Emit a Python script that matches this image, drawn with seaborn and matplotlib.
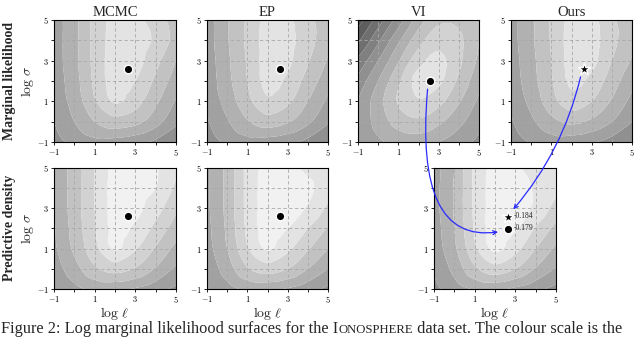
import numpy as np
import matplotlib
matplotlib.use('Agg')
import matplotlib.pyplot as plt
import matplotlib.tri as mtri
import seaborn as sns
from matplotlib.patches import ConnectionPatch

sns.set_style('white')
plt.rcParams['font.family'] = ['Liberation Serif', 'DejaVu Serif']
plt.rcParams['mathtext.fontset'] = 'cm'

# ---------------- data ----------------
col_titles = ["MCMC", "EP", "VI", "Ours"]
row_labels = ["Marginal likelihood", "Predictive density"]
tick_vals = [-1, 1, 3, 5]
tick_labels = ["$-1$", "$1$", "$3$", "$5$"]
minor_vals = [0, 2, 4]
grid_axis = [-1, 0, 1, 2, 3, 4, 5]   # surface sample positions (log l and log sigma)

# surface levels (band index), rows from log sigma = 5 (top) down to -1
ml_mcmc = [[4.5, 5.7, 7.3, 8.3, 8.3, 7.5, 6.5],
           [4.5, 5.7, 7.3, 8.4, 8.5, 7.8, 6.6],
           [4.5, 5.7, 7.3, 8.5, 8.4, 7.3, 6.0],
           [4.4, 5.6, 7.2, 8.4, 8.0, 6.8, 5.5],
           [4.3, 5.4, 6.9, 8.1, 7.4, 6.2, 4.9],
           [4.0, 5.0, 6.0, 6.6, 6.3, 5.4, 4.2],
           [3.6, 4.3, 4.7, 4.6, 4.3, 3.8, 3.2]]
ml_ep = [[4.5, 5.9, 7.2, 8.3, 8.2, 7.3, 6.4],
         [4.5, 5.9, 7.2, 8.4, 8.3, 7.4, 6.3],
         [4.4, 5.8, 7.1, 8.4, 8.2, 7.1, 5.9],
         [4.3, 5.7, 7.0, 8.3, 7.8, 6.6, 5.4],
         [4.2, 5.4, 6.7, 7.8, 7.2, 6.0, 4.8],
         [3.9, 4.9, 5.9, 6.5, 6.1, 5.2, 4.1],
         [3.5, 4.2, 4.6, 4.5, 4.2, 3.7, 3.1]]
ml_vi = [[-0.5, 1.5, 3.5, 5.5, 6.8, 6.8, 6.0],
         [0.8, 2.8, 4.8, 6.6, 7.6, 7.2, 6.0],
         [2.2, 4.0, 5.9, 7.6, 8.3, 7.2, 5.8],
         [3.3, 5.0, 6.8, 8.4, 8.2, 6.8, 5.3],
         [4.0, 5.6, 7.1, 7.9, 7.3, 6.1, 4.8],
         [4.2, 5.4, 6.4, 6.8, 6.2, 5.3, 4.3],
         [4.0, 4.8, 5.3, 5.4, 5.0, 4.4, 3.8]]
ml_ours = [[4.6, 5.8, 7.1, 8.3, 8.3, 7.2, 6.4],
           [4.6, 5.8, 7.1, 8.4, 8.4, 7.3, 6.3],
           [4.5, 5.7, 7.0, 8.4, 8.3, 7.0, 5.9],
           [4.4, 5.6, 6.9, 8.2, 7.7, 6.5, 5.3],
           [4.2, 5.3, 6.6, 7.6, 7.0, 5.9, 4.7],
           [3.9, 4.8, 5.7, 6.2, 5.8, 5.0, 4.0],
           [3.5, 4.1, 4.5, 4.4, 4.1, 3.6, 3.0]]
pd_mcmc = [[5.0, 6.5, 8.0, 9.3, 9.4, 9.1, 8.2],
           [5.0, 6.5, 8.0, 9.4, 9.4, 9.0, 7.8],
           [5.0, 6.5, 8.0, 9.4, 9.3, 8.4, 7.2],
           [4.9, 6.4, 7.9, 9.3, 8.8, 7.7, 6.5],
           [4.8, 6.2, 7.7, 9.1, 8.1, 6.9, 5.7],
           [4.5, 5.6, 6.8, 7.4, 6.9, 5.9, 4.8],
           [4.0, 4.7, 5.2, 5.2, 4.9, 4.4, 3.8]]
pd_ep = [[4.8, 6.3, 8.3, 9.3, 9.2, 8.8, 8.3],
         [4.8, 6.3, 8.3, 9.4, 9.4, 9.2, 8.4],
         [4.8, 6.3, 8.3, 9.4, 9.4, 8.9, 7.8],
         [4.7, 6.2, 8.2, 9.4, 9.0, 8.0, 6.9],
         [4.6, 6.0, 7.9, 9.1, 8.2, 7.1, 6.0],
         [4.3, 5.5, 6.9, 7.5, 7.0, 6.0, 5.0],
         [3.9, 4.6, 5.2, 5.2, 4.9, 4.4, 3.8]]
pd_ours = [[4.6, 6.0, 8.2, 9.3, 9.1, 8.7, 8.2],
           [4.6, 6.1, 8.2, 9.4, 9.3, 8.9, 8.2],
           [4.6, 6.1, 8.2, 9.4, 9.4, 8.8, 7.6],
           [4.5, 6.0, 8.1, 9.4, 9.1, 7.9, 6.7],
           [4.4, 5.8, 7.8, 9.2, 8.3, 7.0, 5.8],
           [4.1, 5.3, 6.8, 7.6, 7.0, 5.9, 4.9],
           [3.7, 4.5, 5.1, 5.2, 4.8, 4.3, 3.7]]

# optimum markers (log l, log sigma)
opt_mcmc = (2.62, 2.6)
opt_ep = (2.6, 2.6)
opt_vi = (2.58, 2.0)
opt_ours = (2.6, 2.6)
pd_mcmc_opt = (2.62, 2.6)
pd_ep_opt = (2.6, 2.6)
pd_star = (2.62, 2.58)
pd_circle = (2.62, 1.98)
pd_star_val = "-0.184"
pd_circle_val = "-0.179"

# ---------------- styling ----------------
band_lo, band_hi = -3, 10
levels = list(range(band_lo, band_hi + 1))
grays = []
for k in range(band_lo, band_hi):
    g = 0.945 if k >= 9 else 0.89 - (8 - k) * 0.065
    grays.append(str(min(max(g, 0.12), 0.97)))

W, H = 640, 337
fig = plt.figure(figsize=(W / 100, H / 100), dpi=100)

gx, gy = np.meshgrid(grid_axis, grid_axis[::-1])
base_tri = mtri.Triangulation(gx.ravel(), gy.ravel())
refiner = mtri.UniformTriRefiner(base_tri)


def px_axes(x0, y0, x1, y1):
    return fig.add_axes([x0 / W, 1 - y1 / H, (x1 - x0) / W, (y1 - y0) / H])


def draw_panel(ax, surf):
    z = np.array(surf, dtype=float).ravel()
    interp = mtri.CubicTriInterpolator(base_tri, z, kind='geom')
    tri_f, z_f = refiner.refine_field(z, triinterpolator=interp, subdiv=4)
    z_f = np.clip(z_f, band_lo + 0.01, band_hi - 0.01)
    ax.tricontourf(tri_f, z_f, levels=levels, colors=grays, zorder=0,
                   antialiased=True)
    ax.set_xlim(-1, 5)
    ax.set_ylim(-1, 5)
    for v in range(0, 5):
        ax.axvline(v, color='#a8a8a8', lw=0.6, ls=(0, (4, 3)), zorder=1)
        ax.axhline(v, color='#a8a8a8', lw=0.6, ls=(0, (4, 3)), zorder=1)
    ax.set_xticks(tick_vals)
    ax.set_xticklabels(tick_labels)
    ax.set_yticks(tick_vals)
    ax.set_yticklabels(tick_labels)
    ax.set_xticks(minor_vals, minor=True)
    ax.set_yticks(minor_vals, minor=True)
    ax.tick_params(which='both', direction='out', length=2.5, width=0.6,
                   labelsize=6, pad=1, bottom=True, left=True, top=False, right=False,
                   colors='black')
    ax.tick_params(which='minor', length=2)
    for s in ax.spines.values():
        s.set_color('black')
        s.set_linewidth(0.8)
    ax.grid(False)


def mark(ax, pt, marker, size):
    sns.scatterplot(x=[pt[0]], y=[pt[1]], ax=ax, marker=marker, s=size,
                    color='black', edgecolor='white', linewidth=1.0, zorder=5,
                    legend=False)


top_x = [(54, 176), (207, 328), (358, 479), (511, 632)]
top_y = (20, 142)
bot_y = (168, 289)
bot_x = [(54, 176), (207, 328), (434, 556)]

top_surfs = [ml_mcmc, ml_ep, ml_vi, ml_ours]
top_opts = [opt_mcmc, opt_ep, opt_vi, opt_ours]
top_axes = []
for i, (xs, surf, opt) in enumerate(zip(top_x, top_surfs, top_opts)):
    ax = px_axes(xs[0], top_y[0], xs[1], top_y[1])
    draw_panel(ax, surf)
    if i == 3:
        mark(ax, opt, '*', 80)
    else:
        mark(ax, opt, 'o', 38)
    ax.set_title(col_titles[i], fontsize=10.5, pad=3)
    top_axes.append(ax)

bot_surfs = [pd_mcmc, pd_ep, pd_ours]
bot_axes = []
for i, (xs, surf) in enumerate(zip(bot_x, bot_surfs)):
    ax = px_axes(xs[0], bot_y[0], xs[1], bot_y[1])
    draw_panel(ax, surf)
    ax.set_xlabel(r'$\log\,\ell$', fontsize=10, labelpad=0)
    bot_axes.append(ax)

mark(bot_axes[0], pd_mcmc_opt, 'o', 38)
mark(bot_axes[1], pd_ep_opt, 'o', 38)
mark(bot_axes[2], pd_star, '*', 80)
mark(bot_axes[2], pd_circle, 'o', 38)
bot_axes[2].text(pd_star[0] + 0.3, pd_star[1] + 0.05, pd_star_val, fontsize=5.5,
                 va='center', ha='left', zorder=6)
bot_axes[2].text(pd_circle[0] + 0.3, pd_circle[1] + 0.05, pd_circle_val, fontsize=5.5,
                 va='center', ha='left', zorder=6)

for ax in (top_axes[0], bot_axes[0]):
    ax.set_ylabel(r'$\log\,\sigma$', fontsize=10, labelpad=1)

fig.text(10 / W, 1 - 81 / H, row_labels[0], rotation=90, fontsize=10,
         fontweight='bold', ha='center', va='center')
fig.text(10 / W, 1 - 228 / H, row_labels[1], rotation=90, fontsize=10,
         fontweight='bold', ha='center', va='center')

# blue arrows
arrow_kw = dict(arrowstyle='->', color='#2a2aff', lw=0.9, mutation_scale=7, zorder=10)
c1 = ConnectionPatch(xyA=(2.45, 1.6), coordsA=top_axes[2].transData,
                     xyB=(2.15, 1.83), coordsB=bot_axes[2].transData,
                     connectionstyle='angle3,angleA=-95,angleB=8', **arrow_kw)
fig.add_artist(c1)
c2 = ConnectionPatch(xyA=(2.45, 2.2), coordsA=top_axes[3].transData,
                     xyB=(2.9, 2.95), coordsB=bot_axes[2].transData,
                     connectionstyle='arc3,rad=-0.12', **arrow_kw)
fig.add_artist(c2)

# caption at the bottom edge of the figure
cap_y = 4.0 / H
t1 = fig.text(1 / W, cap_y, "Figure 2: Log marginal likelihood surfaces for the I",
              fontsize=11.8, ha='left', va='baseline')
t2 = fig.text(0, cap_y, "ONOSPHERE", fontsize=9.2, ha='left', va='baseline')
t3 = fig.text(0, cap_y, " data set. The colour scale is the", fontsize=11.8,
              ha='left', va='baseline')
fig.canvas.draw()
r = fig.canvas.get_renderer()
bb = t1.get_window_extent(r)
t2.set_position((bb.x1 / fig.bbox.width, cap_y))
fig.canvas.draw()
bb2 = t2.get_window_extent(r)
t3.set_position((bb2.x1 / fig.bbox.width, cap_y))

fig.savefig('out.png', dpi=100)
